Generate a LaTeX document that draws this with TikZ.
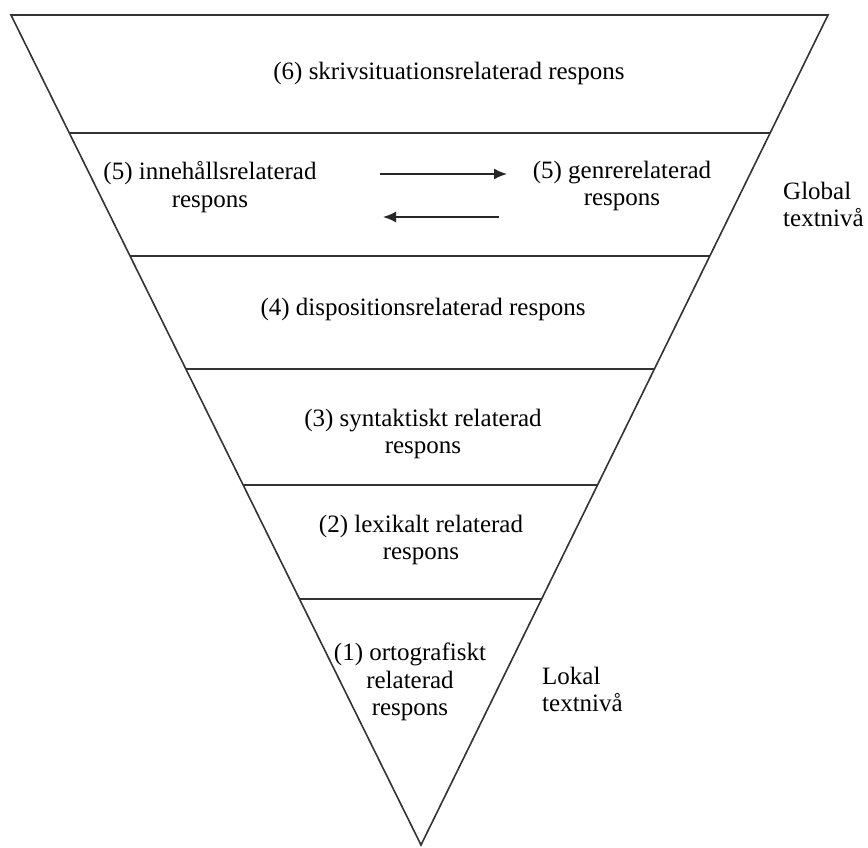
\documentclass[tikz,border=0pt]{standalone}
\usepackage{fontspec}
\setmainfont{Liberation Serif}
\usetikzlibrary{calc,arrows.meta}
\begin{document}
\begin{tikzpicture}[x=1pt,y=-1pt,
  edge/.style={line width=1.6pt,draw=black!80},
  lbl/.style={align=center,font=\fontsize{25}{27.5}\selectfont,inner sep=0pt},
  side/.style={align=left,font=\fontsize{25}{27}\selectfont,inner sep=0pt,anchor=west},
  arr/.style={line width=1.6pt,draw=black!85,-{Latex[length=13pt,width=11pt]}}]
\useasboundingbox (0,0) rectangle (868,848);
\coordinate (TL) at (11,15);
\coordinate (TR) at (828,15);
\coordinate (A) at (421,845);
\draw[edge] (TL) -- (TR) -- (A) -- cycle;
\foreach \y/\n in {133/a,256/b,369/c,485/d,599/e}{
  \coordinate (L\n) at ($(TL)!{(\y-15)/830}!(A)$);
  \coordinate (R\n) at ($(TR)!{(\y-15)/830}!(A)$);
  \draw[edge] (L\n) -- (R\n);
}
\node[lbl] (n6) at (449,73) {(6) skrivsituationsrelaterad respons};
\node[lbl] (n5a) at (210,187) {(5) innehållsrelaterad\\respons};
\node[lbl] (n5b) at (622,186) {(5) genrerelaterad\\respons};
\coordinate (a1s) at (380,174);
\coordinate (a1e) at (507,174);
\coordinate (a2s) at (499,217);
\coordinate (a2e) at (383,217);
\draw[arr] (a1s) -- (a1e);
\draw[arr] (a2s) -- (a2e);
\node[side] (glob) at (783,204) {Global\\textnivå};
\node[side] (lok) at (542,689) {Lokal\\textnivå};
\node[lbl] (n4) at (423,309) {(4) dispositionsrelaterad respons};
\node[lbl] (n3) at (423,434) {(3) syntaktiskt relaterad\\respons};
\node[lbl] (n2) at (421,540) {(2) lexikalt relaterad\\respons};
\node[lbl] (n1) at (410,682) {(1) ortografiskt\\relaterad\\respons};
\end{tikzpicture}
\end{document}
